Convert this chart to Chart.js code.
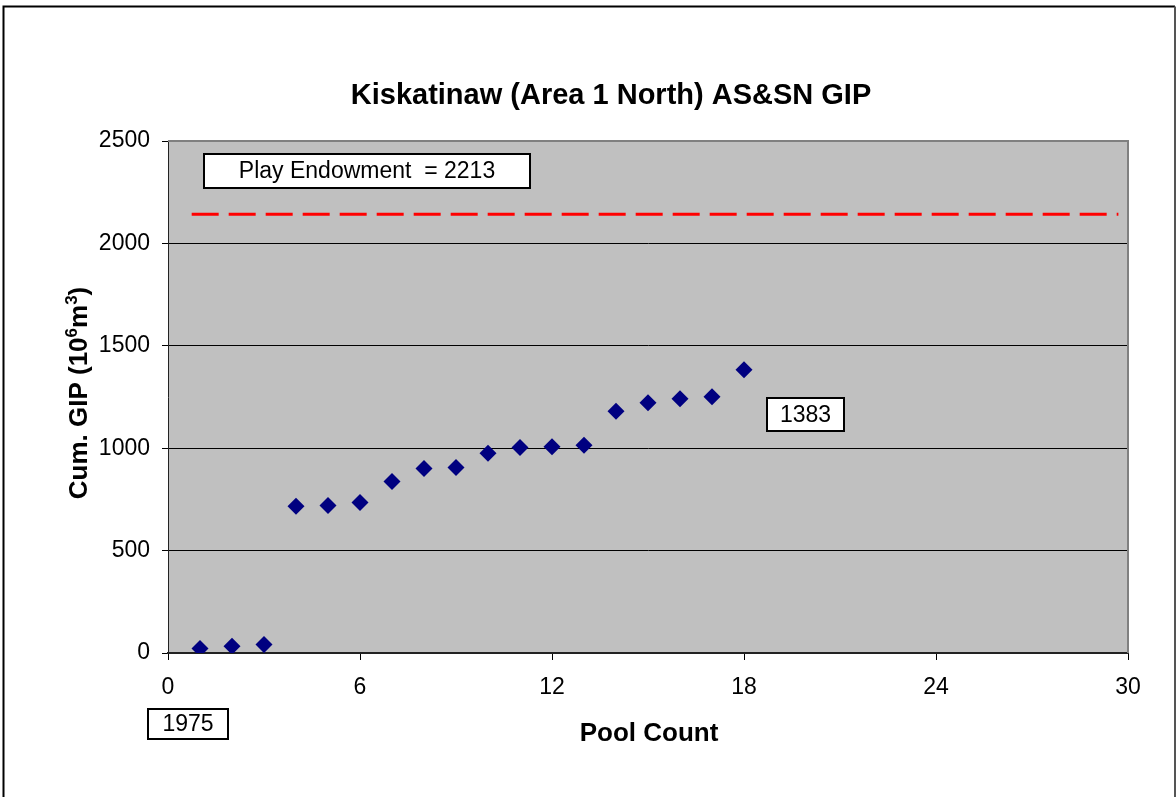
<!DOCTYPE html>
<html>
<head>
<meta charset="utf-8">
<script src="https://cdn.jsdelivr.net/npm/chart.js@4"></script>
<style>
  html, body { margin: 0; padding: 0; background: #fff; }
  canvas { display: block; }
</style>
</head>
<body>
<canvas id="gipChart" width="1176" height="797"></canvas>
<script>
// data
const poolCount = [1, 2, 3, 4, 5, 6, 7, 8, 9, 10, 11, 12, 13, 14, 15, 16, 17, 18];
const cumGIP = [22, 33, 41, 717, 720, 735, 838, 901, 906, 975, 1004, 1007, 1015, 1181, 1222, 1241, 1251, 1383];
const endowmentX = [0.74, 29.7];
const endowmentY = [2142, 2142];
const xTicks = [0, 6, 12, 18, 24, 30];
const yTicks = [0, 500, 1000, 1500, 2000, 2500];

const FONT = "Arial, 'Liberation Sans', sans-serif";

// background, frames, titles and the label boxes
const decor = {
  id: "decor",
  beforeDraw(chart) {
    const { ctx, chartArea: a } = chart;
    ctx.save();
    ctx.fillStyle = "#fff";
    ctx.fillRect(0, 0, chart.width, chart.height);
    ctx.fillStyle = "#c0c0c0";
    ctx.fillRect(a.left, a.top, a.right - a.left, a.bottom - a.top);
    ctx.restore();
  },
  afterDraw(chart) {
    const { ctx, chartArea: a } = chart;
    ctx.save();

    // outer frame
    ctx.strokeStyle = "#000";
    ctx.lineWidth = 2;
    ctx.beginPath();
    ctx.moveTo(3.5, 800); ctx.lineTo(3.5, 6.5); ctx.lineTo(1175, 6.5);
    ctx.stroke();
    ctx.strokeStyle = "#555";
    ctx.beginPath();
    ctx.moveTo(1175, 6.5); ctx.lineTo(1175, 800);
    ctx.stroke();

    // plot top/right border
    ctx.strokeStyle = "#808080";
    ctx.lineWidth = 2;
    ctx.beginPath();
    ctx.moveTo(a.left, a.top); ctx.lineTo(a.right, a.top); ctx.lineTo(a.right, a.bottom);
    ctx.stroke();

    // titles
    ctx.fillStyle = "#000";
    ctx.textAlign = "center";
    ctx.textBaseline = "alphabetic";
    ctx.font = "bold 29px " + FONT;
    ctx.fillText("Kiskatinaw (Area 1 North) AS&SN GIP", 611, 104);
    ctx.font = "bold 26px " + FONT;
    ctx.fillText("Pool Count", 649, 741);

    // y title with superscripts
    ctx.save();
    ctx.translate(87, 393);
    ctx.rotate(-Math.PI / 2);
    const parts = [
      ["Cum. GIP (10", 26, 0],
      ["6", 17, -10],
      ["m", 26, 0],
      ["3", 17, -10],
      [")", 26, 0]
    ];
    let total = 0;
    parts.forEach(p => { ctx.font = "bold " + p[1] + "px " + FONT; total += ctx.measureText(p[0]).width; });
    let x = -total / 2;
    ctx.textAlign = "left";
    parts.forEach(p => {
      ctx.font = "bold " + p[1] + "px " + FONT;
      ctx.fillText(p[0], x, p[2]);
      x += ctx.measureText(p[0]).width;
    });
    ctx.restore();

    // label boxes
    function box(x1, y1, x2, y2, text, size) {
      ctx.fillStyle = "#fff";
      ctx.fillRect(x1, y1, x2 - x1, y2 - y1);
      ctx.strokeStyle = "#000";
      ctx.lineWidth = 2;
      ctx.strokeRect(x1, y1, x2 - x1, y2 - y1);
      ctx.fillStyle = "#000";
      ctx.font = size + "px " + FONT;
      ctx.textAlign = "center";
      ctx.textBaseline = "middle";
      ctx.fillText(text, (x1 + x2) / 2, (y1 + y2) / 2 + 1);
    }
    box(204, 154, 530, 188, "Play Endowment  = 2213", 23);
    box(767, 398, 844, 431, "1383", 23);
    box(148, 709, 228, 739, "1975", 23);

    ctx.restore();
  }
};

const ctx = document.getElementById("gipChart").getContext("2d");
new Chart(ctx, {
  type: "scatter",
  data: {
    datasets: [
      {
        label: "Cum. GIP",
        data: poolCount.map((p, i) => ({ x: p, y: cumGIP[i] })),
        pointStyle: "rectRot",
        pointRadius: 8.5,
        pointBackgroundColor: "#000080",
        pointBorderColor: "#000080",
        pointBorderWidth: 0
      },
      {
        label: "Play Endowment",
        type: "line",
        data: endowmentX.map((x, i) => ({ x: x, y: endowmentY[i] })),
        borderColor: "#ff0000",
        borderWidth: 3,
        borderDash: [27, 10],
        pointRadius: 0,
        fill: false
      }
    ]
  },
  options: {
    responsive: false,
    animation: false,
    layout: { padding: { top: 141, right: 48, left: 0, bottom: 0 } },
    plugins: {
      legend: { display: false },
      title: { display: false },
      tooltip: { enabled: false }
    },
    scales: {
      x: {
        type: "linear",
        min: 0,
        max: 30,
        afterFit(scale) { scale.height = 144; },
        afterBuildTicks(scale) { scale.ticks = xTicks.map(v => ({ value: v })); },
        ticks: { color: "#000", font: { family: FONT, size: 23 }, padding: 14, maxRotation: 0, callback: v => String(v) },
        grid: { drawOnChartArea: false, drawTicks: true, tickLength: 7, color: "#000", lineWidth: 1 },
        border: { color: "#222", width: 2 }
      },
      y: {
        min: 0,
        max: 2500,
        afterFit(scale) { scale.width = 168; },
        afterBuildTicks(scale) { scale.ticks = yTicks.map(v => ({ value: v })); },
        ticks: { color: "#000", font: { family: FONT, size: 23 }, padding: 12, callback: v => String(v) },
        grid: { color: "#000", lineWidth: 1, tickLength: 6 },
        border: { color: "#222", width: 1 }
      }
    }
  },
  plugins: [decor]
});
</script>
</body>
</html>
